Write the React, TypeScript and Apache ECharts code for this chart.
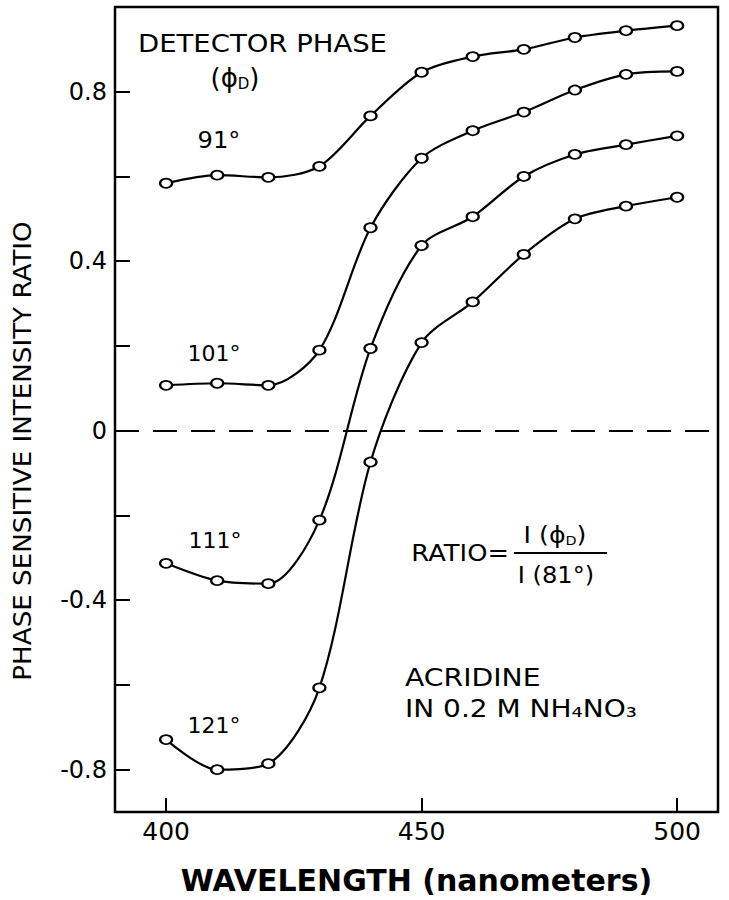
import React, { useEffect, useRef } from "react";
import * as echarts from "echarts";

const wavelengths = [400, 410, 420, 430, 440, 450, 460, 470, 480, 490, 500];
const phase91 = [0.584, 0.603, 0.598, 0.624, 0.743, 0.846, 0.883, 0.9, 0.928, 0.944, 0.956];
const phase101 = [0.107, 0.112, 0.107, 0.19, 0.479, 0.643, 0.708, 0.752, 0.804, 0.841, 0.848];
const phase111 = [-0.313, -0.354, -0.361, -0.211, 0.194, 0.437, 0.505, 0.6, 0.652, 0.675, 0.696];
const phase121 = [-0.729, -0.8, -0.786, -0.607, -0.074, 0.208, 0.304, 0.416, 0.5, 0.53, 0.551];
const seriesNames = ["91°", "101°", "111°", "121°"];
const yTickValues = [-0.8, -0.6, -0.4, -0.2, 0, 0.2, 0.4, 0.6, 0.8];
const yLabelValues = [-0.8, -0.4, 0, 0.4, 0.8];
const xTickValues = [400, 450, 500];

const FONT = "DejaVu Sans";

export default function App() {
  const ref = useRef<HTMLDivElement>(null);
  useEffect(() => {
    if (!ref.current) return;
    const chart = echarts.init(ref.current, null, { renderer: "svg" });
    const allSeries = [phase91, phase101, phase111, phase121];
    const mkSeries = (vals: number[], i: number) => ({
      name: seriesNames[i],
      type: "line",
      data: wavelengths.map((w, j) => [w, vals[j]]),
      smooth: 0.3,
      symbol: "emptyCircle",
      symbolSize: [12, 9],
      lineStyle: { color: "#000", width: 2.2 },
      itemStyle: { color: "#000", borderColor: "#000", borderWidth: 2 },
      z: 3,
      ...(i === 0
        ? {
            markLine: {
              silent: true,
              symbol: "none",
              label: { show: false },
              lineStyle: { color: "#000", width: 2, type: [24, 14] },
              data: [{ yAxis: 0 }],
            },
          }
        : {}),
    });
    const txt = (text: string, x: number, y: number, size: number, align = "left", sx = 1) => ({
      type: "text",
      x,
      y,
      scaleX: sx,
      style: {
        text,
        fontFamily: FONT,
        fontSize: size,
        fill: "#000",
        textAlign: align,
        textVerticalAlign: "middle",
      },
    });
    chart.setOption({
      animation: false,
      backgroundColor: "#fff",
      grid: {
        left: 115,
        right: 11,
        top: 7,
        bottom: 74,
        show: true,
        borderColor: "#000",
        borderWidth: 2.5,
      },
      xAxis: {
        type: "value",
        min: 390,
        max: 508,
        axisLine: { show: false, onZero: false },
        splitLine: { show: false },
        axisTick: {
          show: true,
          inside: true,
          length: 14,
          lineStyle: { color: "#000", width: 2 },
          customValues: xTickValues,
        },
        axisLabel: {
          customValues: xTickValues,
          color: "#000",
          fontFamily: FONT,
          fontSize: 25,
          margin: 7,
        },
        name: "WAVELENGTH (nanometers)",
        nameLocation: "middle",
        nameGap: 53,
        nameTextStyle: {
          color: "#000",
          fontFamily: FONT,
          fontSize: 30,
          fontWeight: "bold",
        },
      },
      yAxis: {
        type: "value",
        min: -0.9,
        max: 1.0,
        axisLine: { show: false, onZero: false },
        splitLine: { show: false },
        axisTick: {
          show: true,
          inside: true,
          length: 15,
          lineStyle: { color: "#000", width: 2 },
          customValues: yTickValues,
        },
        axisLabel: {
          customValues: yLabelValues,
          color: "#000",
          fontFamily: FONT,
          fontSize: 24,
          margin: 8,
          formatter: (v: number) => (Math.abs(v) < 1e-9 ? "0" : String(Math.round(v * 10) / 10)),
        },
      },
      series: allSeries.map(mkSeries),
      graphic: [
        {
          type: "text",
          x: 23,
          y: 451,
          rotation: Math.PI / 2,
          scaleX: 1.09,
          style: {
            text: "PHASE SENSITIVE INTENSITY RATIO",
            fontFamily: FONT,
            fontSize: 24,
            fill: "#000",
            textAlign: "center",
            textVerticalAlign: "middle",
          },
        },
        txt("DETECTOR PHASE", 138, 43, 25, "left", 1.1),
        {
          type: "text",
          x: 235,
          y: 78,
          style: {
            text: "{a|(ϕ}{s|D}{a|)}",
            fontFamily: FONT,
            fill: "#000",
            textAlign: "center",
            textVerticalAlign: "middle",
            rich: {
              a: { fontFamily: FONT, fontSize: 26, fill: "#000" },
              s: { fontFamily: FONT, fontSize: 15, fill: "#000", verticalAlign: "bottom", padding: [8, 0, 0, 0] },
            },
          },
        },
        txt("91°", 219, 140, 23, "center", 1.05),
        txt("101°", 214, 353, 22, "center", 1.0),
        txt("111°", 215, 540, 22, "center", 1.0),
        txt("121°", 214, 725, 22, "center", 1.0),
        txt("RATIO=", 509, 553, 23, "right", 1.12),
        {
          type: "text",
          x: 555,
          y: 535,
          scaleX: 1.1,
          style: {
            text: "{a|I (ϕ}{s|D}{a|)}",
            fontFamily: FONT,
            fill: "#000",
            textAlign: "center",
            textVerticalAlign: "middle",
            rich: {
              a: { fontFamily: FONT, fontSize: 23, fill: "#000" },
              s: { fontFamily: FONT, fontSize: 13, fill: "#000", verticalAlign: "bottom", padding: [6, 0, 0, 0] },
            },
          },
        },
        {
          type: "line",
          shape: { x1: 514, y1: 553, x2: 607, y2: 553 },
          style: { stroke: "#000", lineWidth: 2 },
        },
        txt("I (81°)", 556, 575, 23, "center", 1.05),
        txt("ACRIDINE", 405, 677, 25, "left", 1.13),
        txt("IN 0.2 M NH₄NO₃", 405, 708, 25, "left", 1.12),
      ],
    });
    return () => chart.dispose();
  }, []);
  return <div ref={ref} style={{ position: "absolute", left: 0, top: 0, width: 729, height: 900 }} />;
}
